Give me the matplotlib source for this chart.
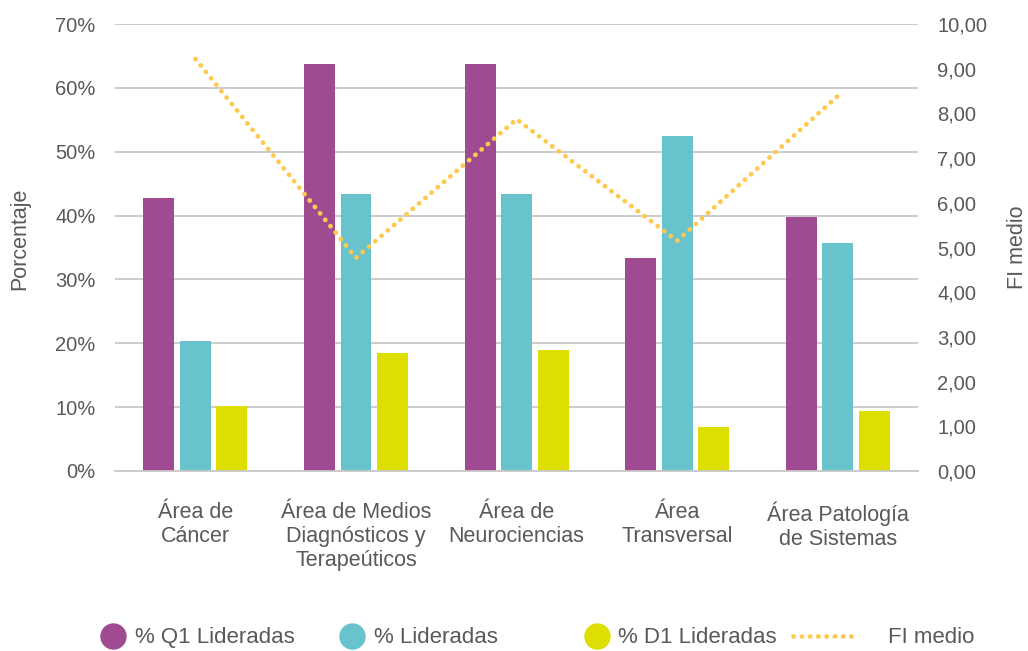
import numpy as np
import matplotlib.pyplot as plt
from matplotlib.lines import Line2D

plt.rcParams['font.family'] = ['Liberation Sans', 'DejaVu Sans']

areas = ['Área de\nCáncer', 'Área de Medios\nDiagnósticos y\nTerapeúticos', 'Área de\nNeurociencias',
         'Área\nTransversal', 'Área Patología\nde Sistemas']
q1_lideradas = [42.8, 63.7, 63.7, 33.4, 39.8]
lideradas = [20.4, 43.4, 43.4, 52.5, 35.7]
d1_lideradas = [10.2, 18.5, 18.9, 6.9, 9.4]
fi_medio = [9.22, 4.77, 7.87, 5.15, 8.39]

pct_ticks = [0, 10, 20, 30, 40, 50, 60, 70]
fi_ticks = [0, 1, 2, 3, 4, 5, 6, 7, 8, 9, 10]

purple = '#a04a92'
teal = '#68c3cc'
yellow = '#dede00'
gold = '#ffc94f'
text_col = '#595959'
grid_col = '#c8c8c8'
dots = (0, (0.05, 1.7))

fig = plt.figure(figsize=(10.28, 6.51), dpi=100)
ax = fig.add_axes([0.112, 0.2765, 0.781, 0.6865])
ax2 = ax.twinx()

x = np.arange(len(areas))
w = 0.193
off = 0.227
ax.bar(x - off, q1_lideradas, w, color=purple, zorder=2)
ax.bar(x, lideradas, w, color=teal, zorder=2)
ax.bar(x + off, d1_lideradas, w, color=yellow, zorder=2)

ax.set_xlim(-0.5, len(areas) - 0.5)
ax.set_ylim(0, 70)
ax.set_yticks(pct_ticks)
ax.set_yticklabels([f'{t}%' for t in pct_ticks])
ax.yaxis.grid(True, color=grid_col, linewidth=1.3, zorder=0)
ax.set_axisbelow(True)
ax.set_xticks(x)
ax.set_xticklabels(areas, fontsize=15.5, color=text_col, linespacing=1.2)
ax.tick_params(axis='x', length=0, pad=22)
ax.tick_params(axis='y', length=0, labelsize=14.5, labelcolor=text_col, pad=14)
for s in ['top', 'right', 'left']:
    ax.spines[s].set_visible(False)
ax.spines['bottom'].set_color(grid_col)
ax.spines['bottom'].set_linewidth(1.3)
ax.set_ylabel('Porcentaje', fontsize=15.5, color=text_col)
ax.yaxis.set_label_coords(-0.106, 0.52)

ax2.plot(x, fi_medio, color=gold, linewidth=3.4, linestyle=dots,
         dash_capstyle='round', zorder=3)
ax2.set_ylim(0, 10)
ax2.set_yticks(fi_ticks)
ax2.set_yticklabels([f'{t:.2f}'.replace('.', ',') for t in fi_ticks])
ax2.tick_params(axis='y', length=0, labelsize=14.5, labelcolor=text_col, pad=14)
for s in ['top', 'right', 'left', 'bottom']:
    ax2.spines[s].set_visible(False)
ax2.set_ylabel('FI medio', fontsize=15.5, color=text_col, labelpad=14)

# one small legend per entry so each sits at its own spot along the bottom
entries = [
    (Line2D([], [], linestyle='none', marker='o', markersize=18, color=purple), '% Q1 Lideradas', 0.0995, 1.0, 0.45),
    (Line2D([], [], linestyle='none', marker='o', markersize=18, color=teal), '% Lideradas', 0.332, 1.0, 0.45),
    (Line2D([], [], linestyle='none', marker='o', markersize=18, color=yellow), '% D1 Lideradas', 0.570, 1.0, 0.45),
    (Line2D([], [], color=gold, linewidth=3.4, linestyle=dots, dash_capstyle='round'), 'FI medio', 0.771, 2.9, 1.4),
]
for handle, label, xpos, hlen, hpad in entries:
    leg = fig.legend([handle], [label], loc='center left', bbox_to_anchor=(xpos, 0.02),
                     frameon=False, fontsize=16, handlelength=hlen, handletextpad=hpad,
                     borderpad=0, borderaxespad=0)
    leg.get_texts()[0].set_color(text_col)

fig.savefig('out.png', dpi=100)
